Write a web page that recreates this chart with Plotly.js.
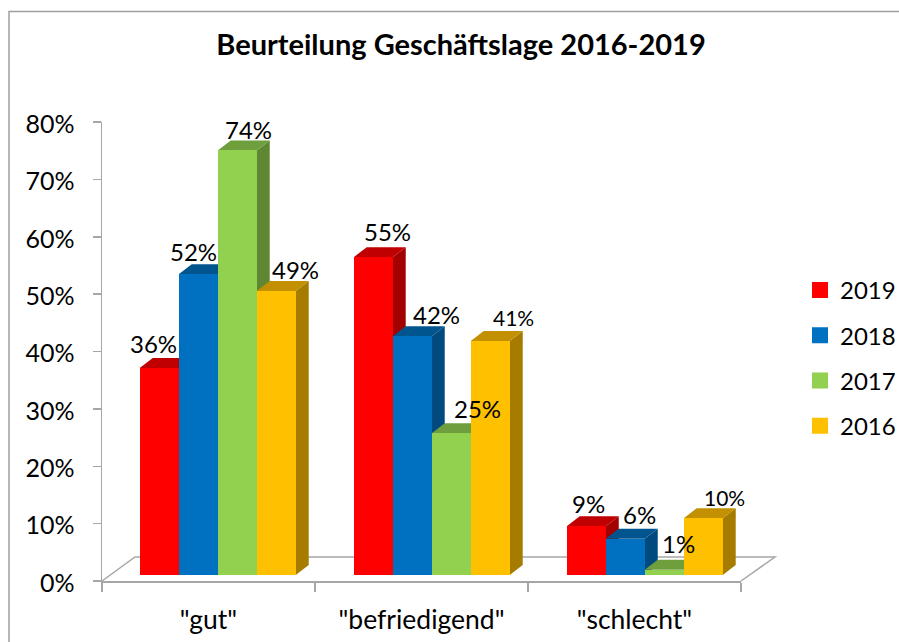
<!DOCTYPE html>
<html>
<head>
<meta charset="utf-8">
<script src="https://cdn.plot.ly/plotly-3.0.1.min.js"></script>
<style>html,body{margin:0;padding:0;background:#fff}</style>
</head>
<body>
<div id="chart" style="width:899px;height:642px"></div>
<script>
// ---- data ----
const categories = ['"gut"', '"befriedigend"', '"schlecht"'];
const years = ['2019', '2018', '2017', '2016'];
const values2019 = [36.1, 55.4, 8.5];
const values2018 = [52.4, 41.6, 6.3];
const values2017 = [74.0, 24.7, 0.9];
const values2016 = [49.5, 40.8, 9.9];
const labels2019 = ['36%', '55%', '9%'];
const labels2018 = ['52%', '42%', '6%'];
const labels2017 = ['74%', '25%', '1%'];
const labels2016 = ['49%', '41%', '10%'];
const yTicks = [0, 10, 20, 30, 40, 50, 60, 70, 80];

// ---- styles / layout constants ----
const FONT = 'Lato, Carlito, sans-serif';
const front = ['#ff0000', '#0070c0', '#92d050', '#ffc000'];
const topFace = ['#c00000', '#00558f', '#6f9e3c', '#c29000'];
const sideFace = ['#a30000', '#004a7f', '#5f8733', '#a67c00'];
const axisGray = '#a6a6a6';
const W = 899, H = 642, L = 102, R = 741, T = 122, B = 581;
const catPx = (R - L) / 3, pctPx = (B - T) / 80;
const barW = 39 / catPx, depthX = 13 / catPx, depthY = 10 / pctPx;
const groupShift = [0.0433, 0.048, 0.048], baseY = 6 / pctPx;

const series = [values2019, values2018, values2017, values2016];
const seriesLabels = [labels2019, labels2018, labels2017, labels2016];
// label placement relative to bar top centre: [dx px, dy px, font size]
const labelNudge = [
  [[-5.5, 24, 24], [14.5, 26, 24], [2.5, 23, 24]],
  [[-4.5, 23, 24], [24.5, 22, 24], [14.5, 24, 24]],
  [[11.5, 21, 24], [26.5, 25, 24], [14.5, 26, 24]],
  [[19.5, 21, 24], [23.5, 23, 21], [21.5, 21, 21]]
];

const catIdx = categories.map((_, i) => i);
const cx = (c, s) => c + groupShift[c] + (s - 1.5) * barW;

const traces = [], shapes = [], annotations = [];

// floor (chart furniture, paper space so it may pass the plot edge)
const px = x => (x - L) / (R - L), py = y => (B - y) / (B - T);
shapes.push({
  type: 'path', xref: 'paper', yref: 'paper', layer: 'below',
  path: `M${px(L)},${py(B)} L${px(135)},${py(557)} L${px(775)},${py(557)} L${px(R)},${py(B)}`,
  line: {color: axisGray, width: 1.5}, fillcolor: 'rgba(0,0,0,0)'
});
// outer frame: only the left and top edges are visible
shapes.push({
  type: 'path', xref: 'paper', yref: 'paper', layer: 'below',
  path: `M${px(9)},${py(642)} L${px(9)},${py(11.5)} L${px(899)},${py(11.5)}`,
  line: {color: '#a0a0a0', width: 1.5}, fillcolor: 'rgba(0,0,0,0)'
});

series.forEach((vals, s) => {
  const xs = catIdx.map(c => cx(c, s));
  traces.push({
    type: 'bar', x: xs, y: vals, base: vals.map(() => baseY), width: barW,
    marker: {color: front[s], line: {width: 0}},
    showlegend: false, hoverinfo: 'skip'
  });
  vals.forEach((v, c) => {
    const x0 = xs[c] - barW / 2, x1 = xs[c] + barW / 2, y0 = baseY, y1 = baseY + v;
    // side face
    shapes.push({
      type: 'path', layer: 'below', xref: 'x', yref: 'y',
      path: `M${x1},${y0} L${x1 + depthX},${y0 + depthY} L${x1 + depthX},${y1 + depthY} L${x1},${y1} Z`,
      fillcolor: sideFace[s], line: {width: 0}
    });
    // top face
    shapes.push({
      type: 'path', layer: 'below', xref: 'x', yref: 'y',
      path: `M${x0},${y1} L${x0 + depthX},${y1 + depthY} L${x1 + depthX},${y1 + depthY} L${x1},${y1} Z`,
      fillcolor: topFace[s], line: {width: 0}
    });
    const n = labelNudge[s][c];
    annotations.push({
      x: xs[c], y: y1, xref: 'x', yref: 'y', text: seriesLabels[s][c], showarrow: false,
      xanchor: 'center', yanchor: 'middle', xshift: n[0], yshift: n[1],
      font: {family: FONT, size: n[2], color: '#000'}
    });
  });
});

// legend entries
years.forEach((y, s) => {
  traces.push({
    type: 'bar', x: [0], y: [null], name: y, legendgroup: y, width: barW,
    marker: {color: front[s], line: {color: front[s], width: 4}},
    hoverinfo: 'skip'
  });
});

const layout = {
  width: W, height: H, autosize: false,
  margin: {l: L, r: W - R, t: T, b: H - B, pad: 0, autoexpand: false},
  paper_bgcolor: '#fff', plot_bgcolor: 'rgba(0,0,0,0)',
  barmode: 'overlay',
  title: {
    text: '<b>Beurteilung Geschäftslage 2016-2019</b>',
    font: {family: FONT, size: 29, color: '#000'},
    x: 461 / W, xanchor: 'center', y: 1 - 45 / H, yanchor: 'middle'
  },
  font: {family: FONT, color: '#000'},
  xaxis: {
    range: [-0.5, 2.5], tickmode: 'array', tickvals: catIdx, ticktext: categories,
    ticks: 'outside', ticklen: 0.01, tickcolor: axisGray,
    tickfont: {family: FONT, size: 26.5, color: '#000'}, ticklabelstandoff: 15,
    showgrid: false, zeroline: false, showline: true, linecolor: axisGray, linewidth: 1.5,
    minor: {tickmode: 'array', tickvals: [-0.5, 0.5, 1.5, 2.5], ticks: 'outside', ticklen: 9, tickcolor: axisGray, tickwidth: 1.5, showgrid: false}
  },
  yaxis: {
    range: [0, 80], tickmode: 'array', tickvals: yTicks, ticktext: yTicks.map(t => t + '%'),
    ticks: 'outside', ticklen: 8, tickcolor: axisGray, tickwidth: 1.5,
    tickfont: {family: FONT, size: 25, color: '#000'}, ticklabelstandoff: 13, ticklabelshift: 2,
    showgrid: false, zeroline: false, showline: true, linecolor: axisGray, linewidth: 1.5
  },
  legend: {
    x: px(800), xanchor: 'left', y: py(268), yanchor: 'top',
    traceorder: 'grouped', tracegroupgap: 11, itemwidth: 30,
    font: {family: FONT, size: 24, color: '#000'}, bgcolor: 'rgba(0,0,0,0)',
    itemclick: false, itemdoubleclick: false
  },
  shapes, annotations, bargap: 0, showlegend: true
};
Plotly.newPlot('chart', traces, layout, {displayModeBar: false, staticPlot: true});
</script>
</body>
</html>
